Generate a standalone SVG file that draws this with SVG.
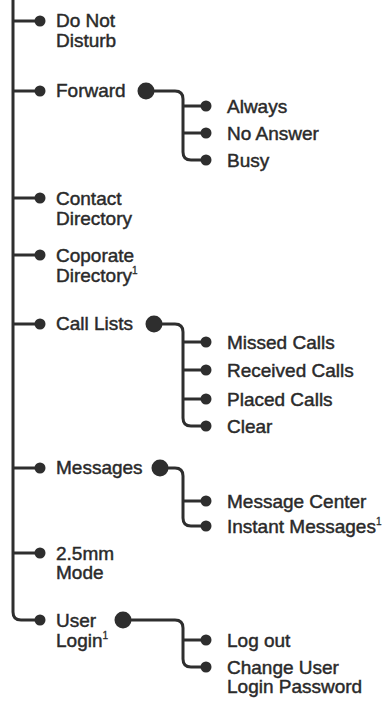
<svg xmlns="http://www.w3.org/2000/svg" width="387" height="704" viewBox="0 0 387 704">
<style>
.ln{fill:none;stroke:#2e2e2e;stroke-width:3;stroke-linejoin:round}
.d{fill:#2e2e2e}
text{font-family:"Liberation Sans",Arial,sans-serif;font-size:19px;fill:#2a2a2a;stroke:#2a2a2a;stroke-width:0.45}
.sup{font-size:10px;stroke-width:0.3}
</style>
<rect width="387" height="704" fill="#fff"/>
<g id="connectors" class="ln">
<path d="M13,0 V612 Q13,620 21,620 H40"/>
<path d="M13,21 H40"/>
<path d="M13,91 H40"/>
<path d="M13,198 H40"/>
<path d="M13,255 H40"/>
<path d="M13,324 H40"/>
<path d="M13,468 H40"/>
<path d="M13,553 H40"/>
<path d="M146,91 H175 Q183,91 183,99 V152 Q183,160 191,160 H206"/>
<path d="M183,106 H206 M183,133 H206"/>
<path d="M154,324 H175 Q183,324 183,332 V418 Q183,426 191,426 H206"/>
<path d="M183,342 H206 M183,370 H206 M183,399 H206"/>
<path d="M160,468 H175 Q183,468 183,476 V518 Q183,526 191,526 H206"/>
<path d="M183,501 H206"/>
<path d="M123,620 H175 Q183,620 183,628 V659 Q183,667 191,667 H206"/>
<path d="M183,640 H206"/>
</g>
<g id="n-dnd"><circle class="d" cx="40" cy="21" r="5.5"/><text x="56" y="27">Do Not</text><text x="56" y="47">Disturb</text></g>
<g id="n-forward"><circle class="d" cx="40" cy="91" r="5.5"/><text x="56" y="97">Forward</text><circle class="d" cx="146" cy="91" r="8.5"/></g>
<g id="n-always"><circle class="d" cx="206" cy="106" r="5.5"/><text x="227" y="113">Always</text></g>
<g id="n-noanswer"><circle class="d" cx="206" cy="133" r="5.5"/><text x="227" y="140">No Answer</text></g>
<g id="n-busy"><circle class="d" cx="206" cy="160" r="5.5"/><text x="227" y="167">Busy</text></g>
<g id="n-contact"><circle class="d" cx="40" cy="198" r="5.5"/><text x="56" y="205">Contact</text><text x="56" y="225">Directory</text></g>
<g id="n-corporate"><circle class="d" cx="40" cy="255" r="5.5"/><text x="56" y="262">Coporate</text><text x="56" y="282">Directory<tspan class="sup" dy="-8">1</tspan></text></g>
<g id="n-calllists"><circle class="d" cx="40" cy="324" r="5.5"/><text x="56" y="330">Call Lists</text><circle class="d" cx="154" cy="324" r="8.5"/></g>
<g id="n-missed"><circle class="d" cx="206" cy="342" r="5.5"/><text x="227" y="349">Missed Calls</text></g>
<g id="n-received"><circle class="d" cx="206" cy="370" r="5.5"/><text x="227" y="377">Received Calls</text></g>
<g id="n-placed"><circle class="d" cx="206" cy="399" r="5.5"/><text x="227" y="406">Placed Calls</text></g>
<g id="n-clear"><circle class="d" cx="206" cy="426" r="5.5"/><text x="227" y="433">Clear</text></g>
<g id="n-messages"><circle class="d" cx="40" cy="468" r="5.5"/><text x="56" y="474">Messages</text><circle class="d" cx="160" cy="468" r="8.5"/></g>
<g id="n-msgcenter"><circle class="d" cx="206" cy="501" r="5.5"/><text x="227" y="508">Message Center</text></g>
<g id="n-instant"><circle class="d" cx="206" cy="526" r="5.5"/><text x="227" y="533">Instant Messages<tspan class="sup" dy="-8">1</tspan></text></g>
<g id="n-25mm"><circle class="d" cx="40" cy="553" r="5.5"/><text x="56" y="560">2.5mm</text><text x="56" y="579">Mode</text></g>
<g id="n-userlogin"><circle class="d" cx="40" cy="620" r="5.5"/><text x="56" y="627">User</text><text x="56" y="647">Login<tspan class="sup" dy="-8">1</tspan></text><circle class="d" cx="123" cy="620" r="8.5"/></g>
<g id="n-logout"><circle class="d" cx="206" cy="640" r="5.5"/><text x="227" y="647">Log out</text></g>
<g id="n-changepw"><circle class="d" cx="206" cy="667" r="5.5"/><text x="227" y="674">Change User</text><text x="227" y="693">Login Password</text></g>
</svg>
